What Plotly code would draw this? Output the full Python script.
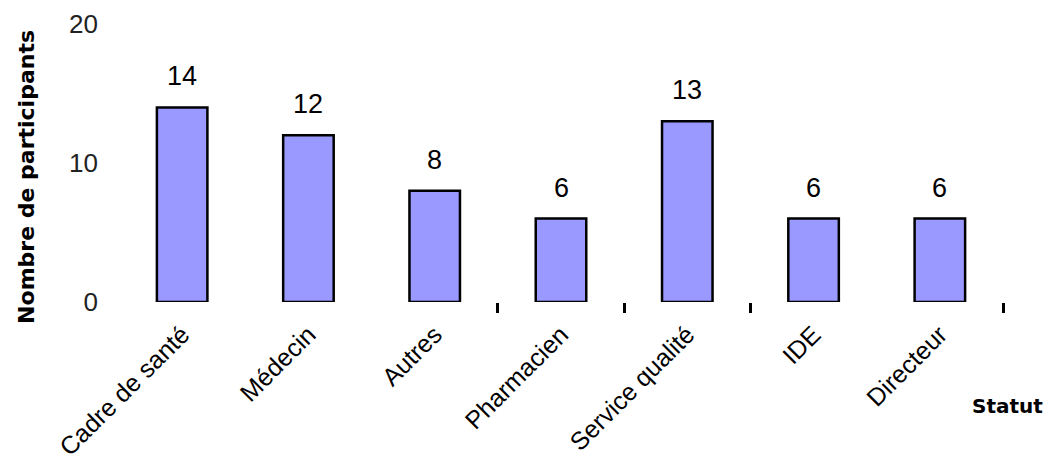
import plotly.graph_objects as go

# Participants by job status
statuts = ["Cadre de santé", "Médecin", "Autres", "Pharmacien",
           "Service qualité", "IDE", "Directeur"]
participants = [14, 12, 8, 6, 13, 6, 6]
y_ticks = [0, 10, 20]
# boundaries between categories that carry a tick mark
boundary_ticks = [2.5, 3.5, 4.5, 6.5]

num_font = "Liberation Sans, Arial, sans-serif"
title_font = "DejaVu Sans, Verdana, sans-serif"

fig = go.Figure()
fig.add_trace(go.Bar(
    x=statuts,
    y=participants,
    width=0.4,
    marker=dict(color="#9999FF", line=dict(color="black", width=2.5)),
    showlegend=False,
    hoverinfo="x+y",
))

# value labels above each bar
for s, v in zip(statuts, participants):
    fig.add_annotation(
        x=s, y=v, xref="x", yref="y",
        text=str(v), showarrow=False,
        yanchor="bottom", yshift=14,
        font=dict(family=num_font, size=27, color="black"),
    )

# axis titles
fig.add_annotation(
    x=0, y=0.45, xref="paper", yref="paper", xshift=-92,
    text="<b>Nombre de participants</b>", textangle=-90,
    showarrow=False, xanchor="center", yanchor="middle",
    font=dict(family=title_font, size=22, color="black"),
)
fig.add_annotation(
    x=1, y=-0.374, xref="paper", yref="paper", xshift=4,
    text="<b>Statut</b>", showarrow=False,
    xanchor="center", yanchor="middle",
    font=dict(family=title_font, size=20, color="black"),
)

fig.update_layout(
    width=1053, height=462,
    margin=dict(l=119, r=50, t=24, b=160, autoexpand=False),
    paper_bgcolor="white", plot_bgcolor="white",
    bargap=0.6,
    xaxis=dict(
        type="category", range=[-0.5, 6.5], automargin=False,
        showline=False, showgrid=False, zeroline=False, ticks="",
        tickangle=-45, ticklabelstandoff=12,
        tickfont=dict(family=num_font, size=25, color="black"),
    ),
    xaxis2=dict(
        overlaying="x", side="bottom", range=[-0.5, 6.5], automargin=False,
        tickmode="array", tickvals=boundary_ticks,
        ticks="outside", ticklen=10, tickwidth=2.5, tickcolor="black",
        showticklabels=False, showline=False, showgrid=False, zeroline=False,
    ),
    yaxis=dict(
        range=[0, 20], tickmode="array", tickvals=y_ticks, automargin=False,
        showline=False, showgrid=False, zeroline=False, ticks="",
        ticklabelstandoff=20,
        tickfont=dict(family=num_font, size=26, color="#222222"),
    ),
)

# empty trace so the tick-mark axis is drawn
fig.add_trace(go.Scatter(x=[], y=[], xaxis="x2", yaxis="y",
                         showlegend=False, hoverinfo="skip"))

fig.write_html("out.html")
